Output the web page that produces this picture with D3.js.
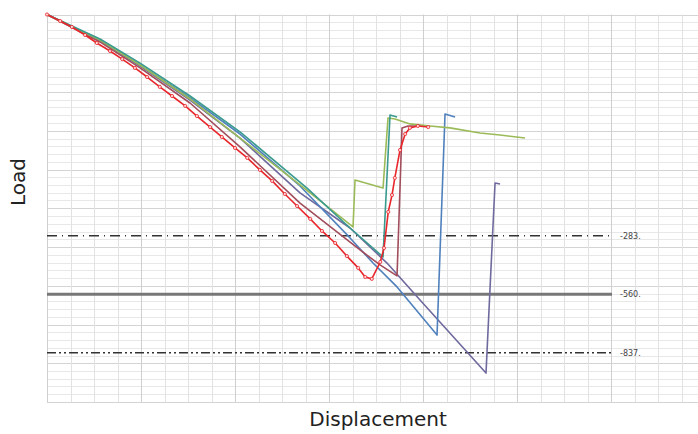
<!DOCTYPE html>
<html>
<head>
<meta charset="utf-8">
<title>Load vs displacement</title>
<script src="https://d3js.org/d3.v7.min.js"></script>
<style>
  body { margin: 0; background: #fff; }
  text { font-family: "DejaVu Sans", sans-serif; }
</style>
</head>
<body>
<script>
// displacement (mm) / load pairs
var redData = [[0,765],[0.28,734],[0.53,706],[0.81,668],[1.06,630],[1.34,592],[1.60,554],[1.87,512],[2.13,469],[2.40,422],
  [2.66,379],[2.94,332],[3.19,284],[3.47,232],[3.72,185],[4.00,133],[4.26,86],[4.53,29],[4.79,-23],[5.06,-85],
  [5.32,-142],[5.60,-203],[5.85,-260],[6.13,-317],[6.38,-379],[6.62,-435],[6.77,-478],[6.91,-487],[7.09,-407],[7.17,-341],
  [7.26,-170],[7.34,-90],[7.40,-9],[7.51,123],[7.62,199],[7.72,228],[7.89,237],[8.11,232]];
var maroonData = [[0,765],[1.128,635],[1.979,512],[3.043,346],[4.106,138],[5.383,-128],[6.660,-350],[7.085,-421],[7.447,-473],
  [7.553,228],[7.681,237],[7.936,237]];
var oliveData = [[0,765],[1.128,644],[1.979,526],[3.043,365],[4.106,180],[5.383,-42],[6.511,-241],[6.553,-19],[7.149,-57],
  [7.255,275],[7.404,270],[7.723,247],[8.149,237],[8.574,228],[9.213,204],[9.638,194],[10.170,180]];
var tealData = [[0,765],[1.128,649],[1.979,535],[3.043,379],[4.106,209],[5.532,-57],[6.447,-246],[7.149,-383],[7.298,289],[7.447,280]];
var blueData = [[0,765],[1.128,644],[1.979,526],[3.043,370],[4.106,199],[5.383,-47],[6.447,-293],[6.936,-412],[7.447,-525],
  [8.298,-753],[8.468,294],[8.681,280]];
var purpleData = [[0,765],[1.128,640],[1.979,521],[3.043,360],[4.106,180],[5.383,-80],[6.447,-246],[7.234,-412],[7.936,-587],
  [9.340,-933],[9.532,-33],[9.638,-38]];

var refLevels = [-283, -560, -837];
var refLabels = ["-283.", "-560.", "-837."];

var W = 698, H = 434;
var svg = d3.select("body").append("svg").attr("width", W).attr("height", H);

var x = d3.scaleLinear().domain([0, 13.85]).range([47, 698]);
var y = d3.scaleLinear().domain([765, -1070]).range([14.5, 402]);
var gy = d3.scaleLinear().domain([0, 50]).range([14.5, 402]);

// grid
var grid = svg.append("g");
grid.selectAll(".hg").data(d3.range(0, 51)).enter().append("line")
  .attr("x1", 47).attr("x2", W)
  .attr("y1", function(d){ return Math.round(gy(d)) + 0.5; })
  .attr("y2", function(d){ return Math.round(gy(d)) + 0.5; })
  .attr("stroke", function(d){ return d % 5 == 0 ? "#d4d4d4" : "#e8e8e8"; })
  .attr("stroke-width", 1);
grid.selectAll(".vg").data(d3.range(0, 28)).enter().append("line")
  .attr("x1", function(d){ return Math.round(x(d * 0.5)) + 0.5; })
  .attr("x2", function(d){ return Math.round(x(d * 0.5)) + 0.5; })
  .attr("y1", 14.5).attr("y2", 402)
  .attr("stroke", function(d){ return d % 4 == 0 ? "#cfcfcf" : "#e2e2e2"; })
  .attr("stroke-width", 1);

// reference levels
var dashes = ["10,5,1,5", null, "9,3,2,3,2,3"];
refLevels.forEach(function(v, i){
  svg.append("line")
    .attr("x1", 47).attr("x2", 612)
    .attr("y1", y(v)).attr("y2", y(v))
    .attr("stroke", i == 1 ? "#777" : "#333")
    .attr("stroke-width", i == 1 ? 3 : 1.6)
    .attr("stroke-dasharray", dashes[i]);
  svg.append("text")
    .attr("x", 620).attr("y", y(v) + 3)
    .attr("font-size", 8).attr("fill", "#444")
    .text(refLabels[i]);
});

var line = d3.line().x(function(d){ return x(d[0]); }).y(function(d){ return y(d[1]); });

var series = [
  {data: purpleData, color: "#6e6a9e"},
  {data: blueData, color: "#4f81bd"},
  {data: maroonData, color: "#a24d5c"},
  {data: oliveData, color: "#9bbb59"},
  {data: tealData, color: "#3a9a8f"},
  {data: redData, color: "#e8262b"}
];
series.forEach(function(s){
  svg.append("path").datum(s.data)
    .attr("d", line)
    .attr("fill", "none")
    .attr("stroke", s.color)
    .attr("stroke-width", 1.6)
    .attr("stroke-linejoin", "round");
});

svg.selectAll(".mk").data(redData).enter().append("circle")
  .attr("cx", function(d){ return x(d[0]); })
  .attr("cy", function(d){ return y(d[1]); })
  .attr("r", 1.6)
  .attr("fill", "#ffd6d6")
  .attr("stroke", "#e8262b")
  .attr("stroke-width", 0.8);

// axis titles
svg.append("text")
  .attr("x", 378).attr("y", 426)
  .attr("text-anchor", "middle")
  .attr("font-size", 20).attr("fill", "#222")
  .text("Displacement");
svg.append("text")
  .attr("transform", "translate(25,182) rotate(-90)")
  .attr("text-anchor", "middle")
  .attr("font-size", 20).attr("fill", "#222")
  .text("Load");
</script>
</body>
</html>
